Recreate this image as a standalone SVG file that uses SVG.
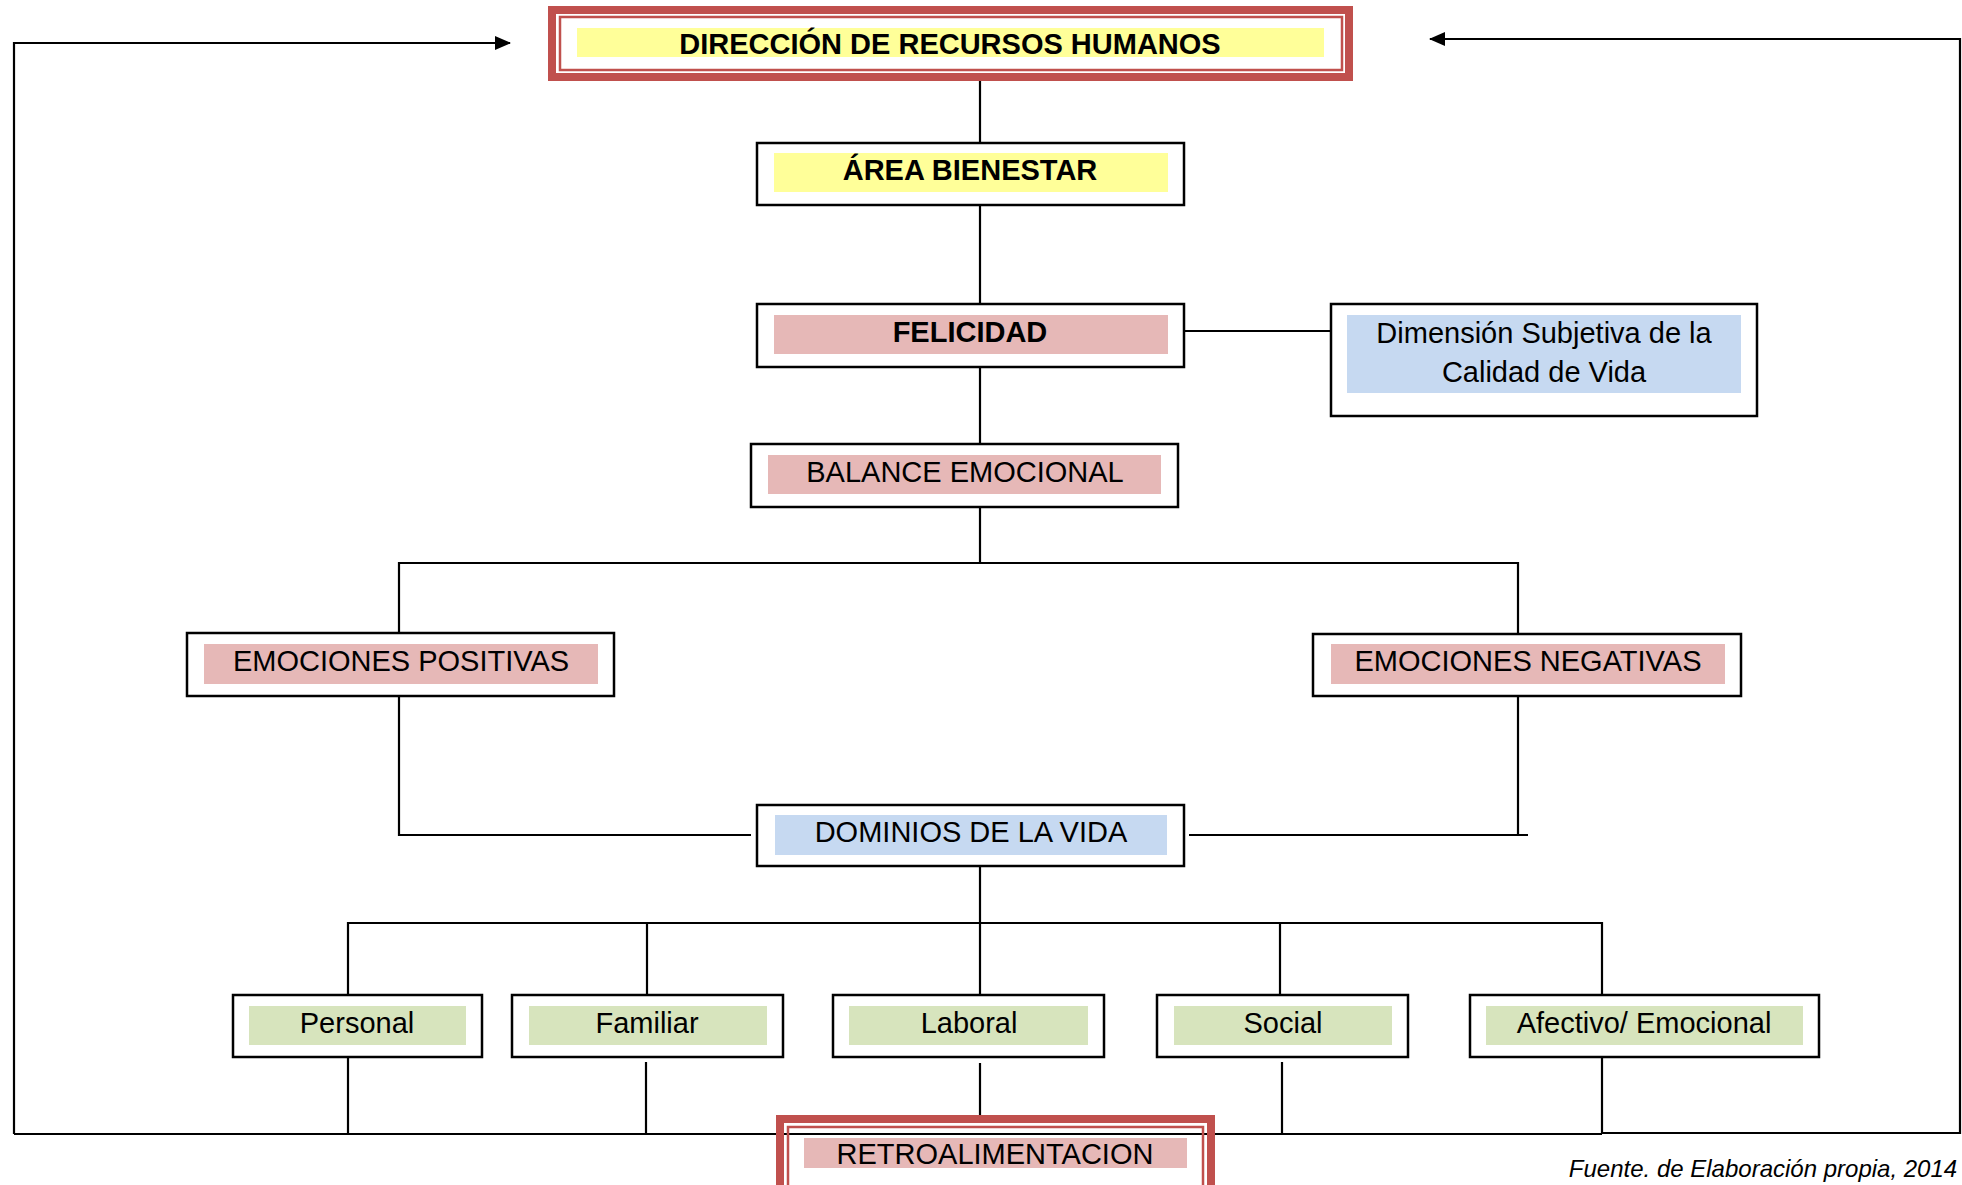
<svg xmlns="http://www.w3.org/2000/svg" width="1962" height="1185" viewBox="0 0 1962 1185">
<defs>
<style>
.box{fill:#fff;stroke:#000;stroke-width:2.5}
.red{fill:none;stroke:#C0504D;stroke-width:8}
.redthin{fill:none;stroke:#C0504D;stroke-width:2.5}
.yel{fill:#FFFF99}
.pink{fill:#E6B8B7}
.blue{fill:#C6D9F1}
.green{fill:#D7E4BD}
.t{font-family:"Liberation Sans",Arial,sans-serif;font-size:29px;fill:#000;text-anchor:middle}
.b{font-weight:bold}
.c{fill:none;stroke:#000;stroke-width:2.2}
.foot{font-family:"Liberation Sans",Arial,sans-serif;font-size:24px;font-style:italic;fill:#000;text-anchor:middle}
</style>
<marker id="arr" markerWidth="16" markerHeight="14" refX="15" refY="7" orient="auto" markerUnits="userSpaceOnUse">
<path d="M0,0 L16,7 L0,14 Z" fill="#000"/>
</marker>
</defs>
<rect width="1962" height="1185" fill="#fff"/>

<g id="connectors">
<path class="c" d="M980,81 V143"/>
<path class="c" d="M980,205 V304"/>
<path class="c" d="M1184,331 H1331"/>
<path class="c" d="M980,367 V444"/>
<path class="c" d="M980,507 V563"/>
<path class="c" d="M399,633 V563 H1518 V634"/>
<path class="c" d="M399,696 V835 H751"/>
<path class="c" d="M1518,696 V835"/>
<path class="c" d="M1189,835 H1528"/>
<path class="c" d="M980,866 V923"/>
<path class="c" d="M348,995 V923 H1602 V995"/>
<path class="c" d="M647,923 V995"/>
<path class="c" d="M980,923 V995"/>
<path class="c" d="M1280,923 V995"/>
<path class="c" d="M348,1057 V1134"/>
<path class="c" d="M646,1062 V1134"/>
<path class="c" d="M980,1063 V1115"/>
<path class="c" d="M1282,1062 V1134"/>
<path class="c" d="M1602,1057 V1134"/>
<path class="c" d="M14,1134 H1602"/>
<path class="c" d="M1602,1133 H1960 V39 H1430" marker-end="url(#arr)"/>
<path class="c" d="M14,1134 V43 H510" marker-end="url(#arr)"/>
</g>

<g id="direccion">
<rect x="552" y="10" width="797" height="67" fill="#fff" class="red"/>
<rect x="560" y="17" width="782" height="53" class="redthin"/>
<rect x="577" y="28" width="747" height="29" class="yel"/>
<text class="t b" x="950" y="54">DIRECCIÓN DE RECURSOS HUMANOS</text>
</g>

<g id="area">
<rect class="box" x="757" y="143" width="427" height="62"/>
<rect class="yel" x="774" y="153" width="394" height="39"/>
<text class="t b" x="970" y="180" font-size="27.5">ÁREA BIENESTAR</text>
</g>

<g id="felicidad">
<rect class="box" x="757" y="304" width="427" height="63"/>
<rect class="pink" x="774" y="315" width="394" height="39"/>
<text class="t b" x="970" y="342">FELICIDAD</text>
</g>

<g id="dimension">
<rect class="box" x="1331" y="304" width="426" height="112"/>
<rect class="blue" x="1347" y="315" width="394" height="78"/>
<text class="t" x="1544" y="343">Dimensión Subjetiva de la</text>
<text class="t" x="1544" y="382">Calidad de Vida</text>
</g>

<g id="balance">
<rect class="box" x="751" y="444" width="427" height="63"/>
<rect class="pink" x="768" y="455" width="393" height="39"/>
<text class="t" x="965" y="482">BALANCE EMOCIONAL</text>
</g>

<g id="positivas">
<rect class="box" x="187" y="633" width="427" height="63"/>
<rect class="pink" x="204" y="644" width="394" height="40"/>
<text class="t" x="401" y="671">EMOCIONES POSITIVAS</text>
</g>

<g id="negativas">
<rect class="box" x="1313" y="634" width="428" height="62"/>
<rect class="pink" x="1331" y="644" width="394" height="40"/>
<text class="t" x="1528" y="671">EMOCIONES NEGATIVAS</text>
</g>

<g id="dominios">
<rect class="box" x="757" y="805" width="427" height="61"/>
<rect class="blue" x="775" y="815" width="392" height="40"/>
<text class="t" x="971" y="842">DOMINIOS DE LA VIDA</text>
</g>

<g id="personal">
<rect class="box" x="233" y="995" width="249" height="62"/>
<rect class="green" x="249" y="1006" width="217" height="39"/>
<text class="t" x="357" y="1033">Personal</text>
</g>

<g id="familiar">
<rect class="box" x="512" y="995" width="271" height="62"/>
<rect class="green" x="529" y="1006" width="238" height="39"/>
<text class="t" x="647" y="1033">Familiar</text>
</g>

<g id="laboral">
<rect class="box" x="833" y="995" width="271" height="62"/>
<rect class="green" x="849" y="1006" width="239" height="39"/>
<text class="t" x="969" y="1033">Laboral</text>
</g>

<g id="social">
<rect class="box" x="1157" y="995" width="251" height="62"/>
<rect class="green" x="1174" y="1006" width="218" height="39"/>
<text class="t" x="1283" y="1033">Social</text>
</g>

<g id="afectivo">
<rect class="box" x="1470" y="995" width="349" height="62"/>
<rect class="green" x="1486" y="1006" width="317" height="39"/>
<text class="t" x="1644" y="1033">Afectivo/ Emocional</text>
</g>

<g id="retroalimentacion">
<rect x="780" y="1119" width="431" height="80" fill="#fff" class="red"/>
<rect x="788" y="1127" width="415" height="70" class="redthin"/>
<rect class="pink" x="804" y="1138" width="383" height="30"/>
<text class="t" x="995" y="1164">RETROALIMENTACION</text>
</g>

<text class="foot" x="1763" y="1177">Fuente. de Elaboración propia, 2014</text>
</svg>
